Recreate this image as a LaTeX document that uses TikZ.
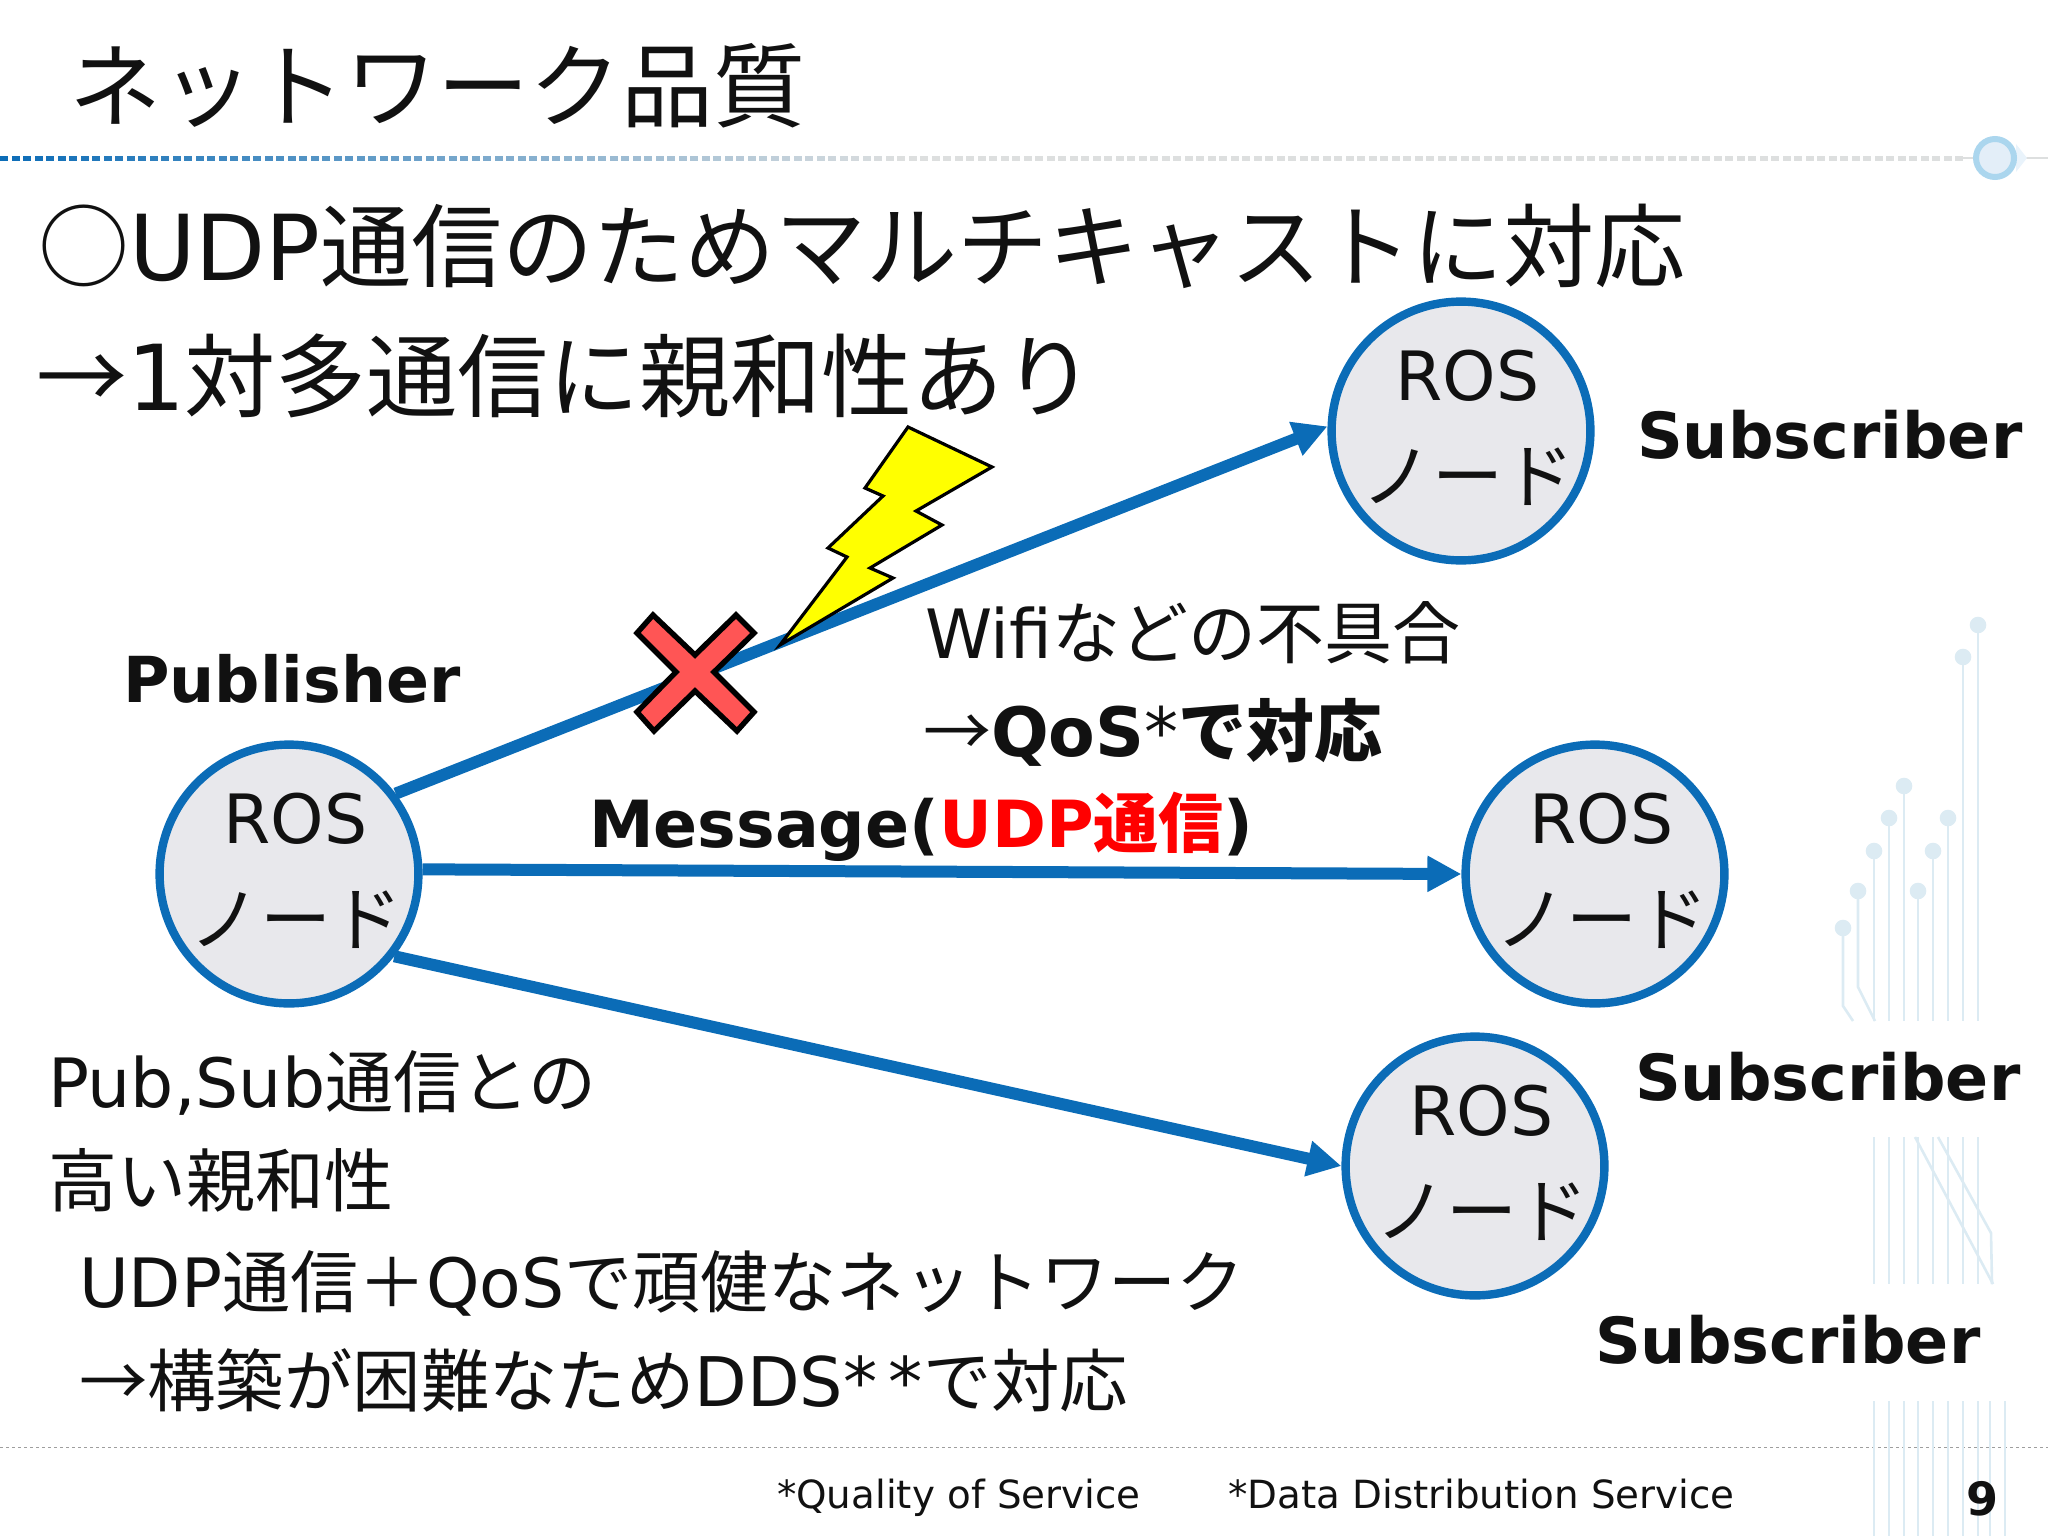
\documentclass[tikz,border=0pt]{standalone}
\usepackage{fontspec}
\setmainfont{DejaVu Sans}
\newfontfamily\cjk{Noto Sans CJK JP}
\newcommand{\jp}[1]{{\cjk #1}}
\newcommand{\fs}[1]{\fontsize{#1}{#1}\selectfont}
\definecolor{nodeblue}{HTML}{0B6CB7}
\definecolor{nodegray}{HTML}{E8E8EC}
\definecolor{deco}{HTML}{DCEBF3}
\definecolor{txt}{HTML}{111111}
\definecolor{boltyellow}{RGB}{255,255,0}
\definecolor{crossred}{HTML}{FF5555}
\definecolor{rulegray}{HTML}{DDDFDF}
\definecolor{ringblue}{HTML}{ABD6EE}
\definecolor{ringfill}{HTML}{E3EEF8}
\definecolor{tipfill}{HTML}{E9F3FB}
\definecolor{brightred}{RGB}{255,0,0}
\tikzset{
  txtnode/.style={anchor=base west,inner sep=0pt,outer sep=0pt,text=txt},
  rosnode/.style={circle,draw=nodeblue,line width=4.2pt,fill=nodegray,minimum size=129.4pt,inner sep=-30pt,align=center,text=txt,font=\fontsize{34}{48}\selectfont},
  conn/.style={draw=nodeblue,line width=6pt,-{Triangle[length=17pt,width=17pt]}},
  decoline/.style={draw=deco,line width=1.3pt},
  decodot/.style={fill=deco,draw=none},
}
\usetikzlibrary{arrows.meta}
\newcommand{\ros}{\hspace*{6.5pt}\raisebox{3.3pt}[\height][\depth]{ROS}\\\hspace*{6.5pt}{\fontsize{35.5}{48}\selectfont\jp{ノード}}}
\begin{document}
\begin{tikzpicture}[x=0.5pt,y=-0.5pt]
\useasboundingbox (0,0) rectangle (2048,1536);
% top dotted rule
\draw[draw=rulegray,line width=1pt] (1960,158) -- (2048,158);
\foreach \i in {0,...,170}{
  \pgfmathsetmacro{\xx}{4+\i*11.5}
  \pgfmathsetmacro{\pp}{max(0,100-\xx/9)}
  \colorlet{dotc}{nodeblue!\pp!rulegray}
  \fill[dotc] (\xx-4,155.5) rectangle (\xx+4,160.5);
}
\fill[fill=tipfill] (2016,144) -- (2027,158) -- (2016,172) -- cycle;
\fill[fill=ringfill] (1995,158) circle (21);
\draw[draw=ringblue,line width=3pt] (1995,158) circle (19);
% bottom dotted rule
\foreach \i in {0,...,341}{
  \fill[black!38] (\i*6,1446.5) rectangle (\i*6+3,1448);
}
% decoration
\foreach \x/\y in {1843/928,1858/891,1874/851,1889/818,1904/786,1918/891,1933/851,1948/818,1963/657,1978/625}{
  \fill[decodot] (\x,\y) circle (8.3);
}
\draw[decoline] (1843,928) -- (1843,1006) -- (1853,1021);
\draw[decoline] (1858,891) -- (1858,987) -- (1875,1021);
\foreach \x/\y in {1874/851,1889/818,1904/786,1918/891,1933/851,1948/818,1963/657,1978/625}{
  \draw[decoline] (\x,\y) -- (\x,1021);
}
\foreach \x in {1874,1889,1904,1918,1933,1948,1963,1978}{
  \draw[decoline] (\x,1137) -- (\x,1284);
}
\draw[decoline] (1915,1137) -- (1993,1284);
\draw[decoline] (1938,1137) -- (1991,1233) -- (1992,1284);
\foreach \x in {1874,1889,1904,1918,1933,1948,1963,1978,1990,2005}{
  \draw[decoline] (\x,1401) -- (\x,1536);
}
% nodes
\node[rosnode] (pub) at (289,874) {\ros};
\node[rosnode] (s1) at (1461,431) {\ros};
\node[rosnode] (s2) at (1595,874) {\ros};
\node[rosnode] (s3) at (1475,1166) {\ros};
% connectors
\draw[conn] (pub.37) -- (s1.178);
\draw[conn] (pub.2) -- (s2.180);
\draw[conn] (pub.-38) -- (s3.180);
% bolt
\draw[fill=boltyellow,draw=black,line width=1.6pt,line join=miter] (908,427) -- (992,467) -- (916,511) -- (942,525) -- (870,568) -- (893,578) -- (780,645) -- (847,557) -- (828,548) -- (883,496) -- (865,488) -- cycle;
% cross
\draw[fill=crossred,draw=black,line width=2.7pt] (653,615) -- (695,655) -- (736,615) -- (754,633) -- (714,672) -- (754,712) -- (737,731) -- (695,691) -- (654,731) -- (637,712) -- (676,672) -- (637,633) -- cycle;
% texts
\node[txtnode,font=\fs{46}] (title) at (69,120) {\jp{ネットワーク品質}};
\node[txtnode,font=\fs{45.5}] (l1) at (38,280) {\jp{○}UDP\jp{通信のためマルチキャストに対応}};
\node[txtnode,font=\fs{45.5}] (l2) at (36,410) {\jp{→}1\jp{対多通信に親和性あり}};
\node[txtnode,font=\fs{31.7}\bfseries] (publabel) at (123,702) {Publisher};
\node[txtnode,font=\fs{31.8}\bfseries] (sub1) at (1637,458) {Subscriber};
\node[txtnode,font=\fs{31.8}\bfseries] (sub2) at (1635,1100) {Subscriber};
\node[txtnode,font=\fs{31.8}\bfseries] (sub3) at (1595,1363) {Subscriber};
\node[txtnode,font=\fs{34}] (wifi) at (925,658) {Wifi\jp{などの不具合}};
\node[txtnode,font=\fs{34}] (qos) at (923,756) {\jp{→}{\bfseries QoS}*{\bfseries\jp{で対応}}};
\node[txtnode,font=\fs{32.5}\bfseries] (msg) at (589,847) {Message(\textcolor{brightred}{UDP\jp{通信}})};
\node[txtnode,font=\fs{34}] (ps1) at (48,1107) {Pub,Sub\jp{通信との}};
\node[txtnode,font=\fs{34.5}] (ps2) at (48,1206) {\jp{高い親和性}};
\node[txtnode,font=\fs{34}] (u1) at (79,1307) {UDP\jp{通信＋}QoS\jp{で頑健なネットワーク}};
\node[txtnode,font=\fs{34.2}] (u2) at (79,1406) {\jp{→構築が困難なため}DDS*\,*\jp{で対応}};
\node[txtnode,font=\fs{19.4}] (fn1) at (777,1508) {*Quality of Service};
\node[txtnode,font=\fs{19.4}] (fn2) at (1228,1508) {*Data Distribution Service};
\node[txtnode,font=\fs{23}\bfseries] (pg) at (1966,1515) {9};
\end{tikzpicture}
\end{document}
